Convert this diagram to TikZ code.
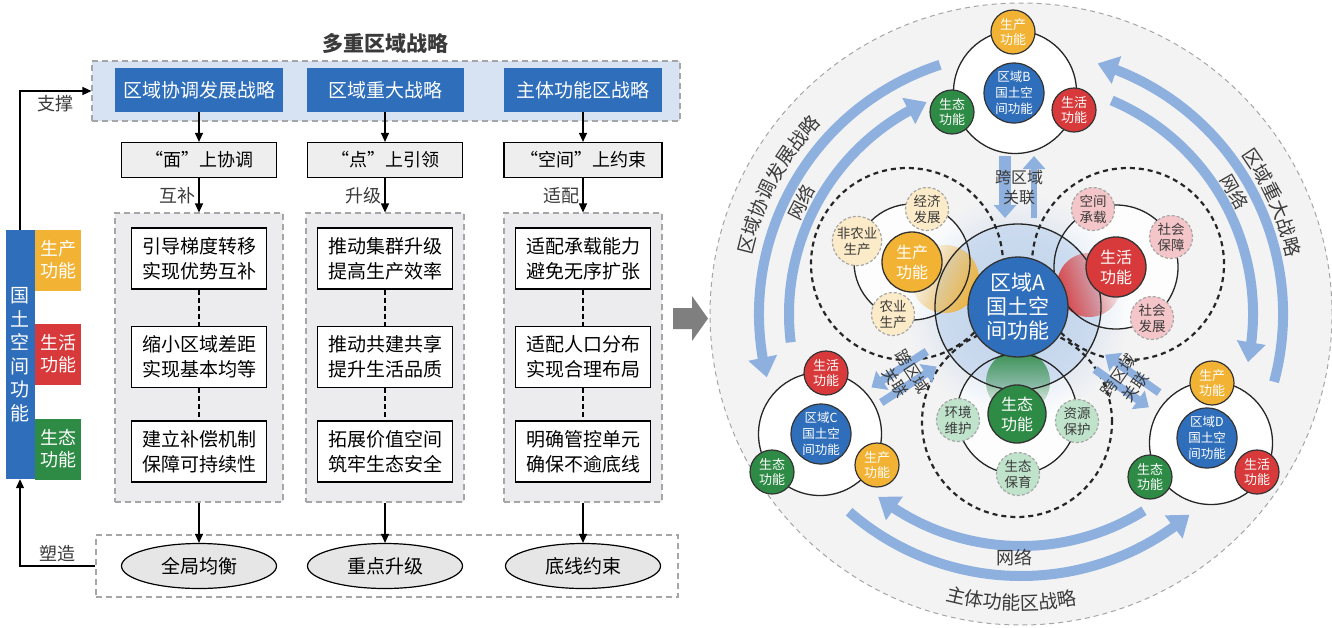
\documentclass[tikz,border=0pt]{standalone}
\usepackage{fontspec}
\setmainfont{Noto Sans CJK SC}
\usetikzlibrary{arrows.meta,positioning,calc,shapes.geometric,fadings,bending,decorations.text}

\definecolor{stratblue}{HTML}{2F6EBA}
\definecolor{prodyellow}{HTML}{F2B233}
\definecolor{lifered}{HTML}{D8393A}
\definecolor{ecogreen}{HTML}{2E8B45}
\definecolor{panelblue}{HTML}{D7E2F3}
\definecolor{panelgray}{HTML}{ECECEE}
\definecolor{boxgray}{HTML}{EEEEEE}
\definecolor{ellgray}{HTML}{E6E6E6}
\definecolor{dashgray}{HTML}{A6A6A6}
\definecolor{flowblue}{HTML}{8DB0DF}
\definecolor{ringbg}{HTML}{F3F3F4}
\definecolor{glowblue}{HTML}{BDD2EC}
\definecolor{chevgray}{HTML}{7F7F7F}
\definecolor{prodpale}{HTML}{FCEBC8}
\definecolor{lifepale}{HTML}{F5C6C9}
\definecolor{ecopale}{HTML}{C0E3CC}
\definecolor{textdark}{HTML}{3A3A3A}

\newcommand{\fsz}[2]{\fontsize{#1}{#2}\selectfont}
\newcommand{\stratfont}{\fontsize{19}{19}\selectfont\color{textdark}}

\tikzfading[name=fadeup, top color=transparent!5, bottom color=transparent!100]
\tikzfading[name=glowfade, inner color=transparent!0, outer color=transparent!100]

\tikzset{
  flow/.style={-{Triangle[length=9pt,width=8pt]}, line width=1.2pt},
  strat/.style={fill=stratblue, text=white, minimum height=44pt, font=\fsz{19}{22}},
  mode/.style={draw, line width=1.2pt, fill=boxgray, minimum width=155pt, minimum height=35pt, font=\fsz{18}{22}},
  measure/.style={draw, line width=1.2pt, fill=white, minimum width=135pt, minimum height=61pt, align=center, font=\fsz{19}{25}},
  panel/.style={draw=dashgray, line width=1.1pt, dash pattern=on 6pt off 4pt},
  outcome/.style={ellipse, draw, line width=1.2pt, fill=ellgray, minimum width=155pt, minimum height=45pt, font=\fsz{19}{22}},
  tab/.style={minimum width=46pt, minimum height=61pt, text=white, align=center, font=\fsz{18}{22}, inner sep=0pt},
  lbl/.style={font=\fsz{18}{22}, text=textdark},
  netarrow/.style={line width=10pt, draw=flowblue, -{Triangle[length=20pt,width=28pt]}},
  crossarrow/.style={line width=8pt, draw=flowblue, -{Triangle[length=13pt,width=22pt]}},
  regionA/.style={circle, draw=black!80, line width=1.3pt, fill=stratblue, minimum size=100pt, inner sep=0pt, text=white, align=center, font=\fsz{21}{24}},
  func/.style={circle, draw=black!80, line width=1.3pt, minimum size=60pt, inner sep=0pt, text=white, align=center, font=\fsz{16}{20}},
  sat/.style={circle, draw=dashgray, line width=1.2pt, dash pattern=on 3pt off 2pt, minimum size=43pt, inner sep=0pt, text=textdark, align=center, font=\fsz{13.5}{16}},
  hub/.style={circle, draw=black!85, line width=1.3pt, fill=white, minimum size=123pt, inner sep=0pt},
  subregion/.style={circle, draw=black!80, line width=1.2pt, fill=stratblue, minimum size=60pt, inner sep=0pt, text=white, align=center, font=\fsz{12.5}{16}},
  subfunc/.style={circle, draw=black!80, line width=1.2pt, minimum size=44pt, inner sep=0pt, text=white, align=center, font=\fsz{13}{15}},
  note/.style={text=textdark, align=center, font=\fsz{16}{20}},
  netlbl/.style={text=textdark, font=\fsz{18}{20}},
  groupring/.style={line width=1.3pt, draw=black!85},
  groupdash/.style={line width=2.2pt, draw=black!85, dash pattern=on 5pt off 4pt}
}

\begin{document}
\begin{tikzpicture}[x=1pt, y=-1pt]
\useasboundingbox (0,0) rectangle (1332,627);
\fill[white] (0,0) rectangle (1332,627);

% ---------- left: strategy flow ----------
\node[font=\fsz{21}{24}\bfseries, text=textdark] (title) at (385,44) {多重区域战略};
\node[panel, fill=panelblue, minimum width=588pt, minimum height=60pt] (stratpanel) at (386,91) {};
\node[strat, minimum width=168pt] (s1) at (199,90) {区域协调发展战略};
\node[strat, minimum width=157pt] (s2) at (385,90) {区域重大战略};
\node[strat, minimum width=158pt] (s3) at (583,90) {主体功能区战略};

\node[mode] (m1) at (199,160) {“面”上协调};
\node[mode] (m2) at (385,160) {“点”上引领};
\node[mode, minimum width=158pt] (m3) at (583,160) {“空间”上约束};

\node[panel, fill=panelgray, minimum width=168pt, minimum height=289pt] (c1) at (199,357.5) {};
\node[panel, fill=panelgray, minimum width=158pt, minimum height=289pt] (c2) at (385,357.5) {};
\node[panel, fill=panelgray, minimum width=158pt, minimum height=289pt] (c3) at (583,357.5) {};

\node[measure] (r11) at (199,258.5) {引导梯度转移\\实现优势互补};
\node[measure] (r12) at (199,357) {缩小区域差距\\实现基本均等};
\node[measure] (r13) at (199,451.5) {建立补偿机制\\保障可持续性};
\node[measure] (r21) at (385,258.5) {推动集群升级\\提高生产效率};
\node[measure] (r22) at (385,357) {推动共建共享\\提升生活品质};
\node[measure] (r23) at (385,451.5) {拓展价值空间\\筑牢生态安全};
\node[measure] (r31) at (583,258.5) {适配承载能力\\避免无序扩张};
\node[measure] (r32) at (583,357) {适配人口分布\\实现合理布局};
\node[measure] (r33) at (583,451.5) {明确管控单元\\确保不逾底线};

\node[panel, fill=white, minimum width=582pt, minimum height=62pt] (outpanel) at (387,566) {};
\node[outcome] (e1) at (199,566) {全局均衡};
\node[outcome] (e2) at (385,566) {重点升级};
\node[outcome] (e3) at (583,566) {底线约束};

\node[fill=stratblue, minimum width=29pt, minimum height=249pt, inner sep=0pt, text=white, align=center, font=\fsz{19}{23.5}] (landbar) at (20,354.5) {国\\土\\空\\间\\功\\能};
\node[tab, fill=prodyellow] (t1) at (58,260) {生产\\功能};
\node[tab, fill=lifered] (t2) at (58,354) {生活\\功能};
\node[tab, fill=ecogreen] (t3) at (58,449) {生态\\功能};

\foreach \i in {1,2,3} {
  \draw[flow] (s\i) -- (m\i);
  \draw[flow] (c\i) -- (e\i);
  \draw[line width=1.2pt, dash pattern=on 5pt off 3pt] (r\i1) -- (r\i2);
  \draw[line width=1.2pt, dash pattern=on 5pt off 3pt] (r\i2) -- (r\i3);
}
\draw[flow] (m1) -- node[lbl, left, pos=0.5] {互补} (c1);
\draw[flow] (m2) -- node[lbl, left, pos=0.5] {升级} (c2);
\draw[flow] (m3) -- node[lbl, left, pos=0.5] {适配} (c3);

\draw[flow] (landbar) |- node[lbl, below, pos=0.75] {支撑} (stratpanel);
\draw[flow] (outpanel) -| node[lbl, above, pos=0.25] {塑造} (landbar);

% ---------- middle arrow ----------
\fill[chevgray] (673,308) -- (692,308) -- (692,296) -- (708,318.5) -- (692,341) -- (692,329) -- (673,329) -- cycle;

% ---------- right: regional network ----------
\coordinate (bigc) at (1021,314);
\begin{scope}
  \clip (0,0) rectangle (1332,627);
  \fill[ringbg] (bigc) circle[radius=311pt];
  \draw[dashgray, line width=1pt, dash pattern=on 5pt off 4pt] (bigc) circle[radius=311pt];
\end{scope}

% network arcs
\draw[netarrow] ([shift={(108:262pt)}]bigc) arc[start angle=108, end angle=194, radius=262pt];
\draw[netarrow] ([shift={(187:232pt)}]bigc) arc[start angle=187, end angle=114, radius=232pt];
\draw[netarrow] ([shift={(-15:262pt)}]bigc) arc[start angle=-15, end angle=73, radius=262pt];
\draw[netarrow] ([shift={(67:232pt)}]bigc) arc[start angle=67, end angle=-12, radius=232pt];
\draw[netarrow] ([shift={(-58:232pt)}]bigc) arc[start angle=-58, end angle=-128, radius=232pt];
\draw[netarrow] ([shift={(-131:262pt)}]bigc) arc[start angle=-131, end angle=-50, radius=262pt];

% strategy names along the ring
\path[decorate, decoration={text along path, text align=center, text={|\stratfont|区域协调发展战略}}]
  ([shift={(192:276pt)}]bigc) arc[start angle=192, end angle=112, radius=276pt];
\path[decorate, decoration={text along path, text align=center, text={|\stratfont|区域重大战略}}]
  ([shift={(64:272pt)}]bigc) arc[start angle=64, end angle=-16, radius=272pt];
\path[decorate, decoration={text along path, text align=center, text={|\stratfont|主体功能区战略}}]
  ([shift={(-132:296pt)}]bigc) arc[start angle=-132, end angle=-52, radius=296pt];

\node[netlbl, rotate=63] (net1) at (801,202) {网络};
\node[netlbl, rotate=-60] (net2) at (1235,192) {网络};
\node[netlbl] (net3) at (1014,558) {网络};

% region A and its three function groups
\coordinate (aC) at (1018,307);
\coordinate (pc) at (912,262);
\coordinate (lc) at (1116,267);
\coordinate (ec) at (1017,414);
\fill[white, opacity=0.85] (pc) circle[radius=58pt];
\fill[white, opacity=0.85] (lc) circle[radius=62pt];
\fill[white, opacity=0.85] (ec) circle[radius=60pt];

\fill[glowblue, path fading=glowfade] (aC) circle[radius=112pt];
\fill[glowblue, opacity=0.6] (aC) circle[radius=83pt];

\fill[prodyellow, path fading=fadeup, fading angle=-115] (945,279) circle[radius=34pt];
\fill[lifered, path fading=fadeup, fading angle=108] (1089,285) circle[radius=32pt];
\fill[ecogreen, path fading=fadeup] (1018,382) circle[radius=32pt];

\draw[groupring] (pc) circle[radius=58pt];
\draw[groupring] (lc) circle[radius=62pt];
\draw[groupring] (ec) circle[radius=60pt];
\draw[groupring] (aC) circle[radius=83pt];
\draw[groupdash] (907,264) circle[radius=96pt];
\draw[groupdash] (1128,264) circle[radius=96pt];
\draw[groupdash] (1017,422) circle[radius=95pt];

% cross-region links
\coordinate (mB) at (1019,187);
\coordinate (mC) at (904,377);
\coordinate (mD) at (1127,381);
\draw[crossarrow, line width=12pt] ($(mB)+(180:14pt)+(90:31pt)$) -- ($(mB)+(180:14pt)+(-90:31pt)$);
\draw[crossarrow, line width=6pt] ($(mB)+(0:15pt)+(-90:31pt)$) -- ($(mB)+(0:15pt)+(90:31pt)$);
\draw[crossarrow] ($(mC)+(123:9pt)+(33:33pt)$) -- ($(mC)+(123:9pt)+(213:33pt)$);
\draw[crossarrow] ($(mC)+(-57:9pt)+(213:33pt)$) -- ($(mC)+(-57:9pt)+(33:33pt)$);
\draw[crossarrow] ($(mD)+(-125:9pt)+(145:33pt)$) -- ($(mD)+(-125:9pt)+(-35:33pt)$);
\draw[crossarrow] ($(mD)+(55:9pt)+(-35:33pt)$) -- ($(mD)+(55:9pt)+(145:33pt)$);
\node[note] (linkB) at (mB) {跨区域\\关联};
\node[note, rotate=-57] (linkC) at (mC) {跨区域\\关联};
\node[note, rotate=55] (linkD) at (mD) {跨区域\\关联};

% nodes of region A
\node[sat, fill=prodpale] (econ) at (927,209) {经济\\发展};
\node[sat, fill=prodpale] (nonagri) at (857,241) {非农业\\生产};
\node[sat, fill=prodpale] (agri) at (893,314) {农业\\生产};
\node[sat, fill=lifepale] (carry) at (1093,209) {空间\\承载};
\node[sat, fill=lifepale] (security) at (1171,237) {社会\\保障};
\node[sat, fill=lifepale] (social) at (1152,318) {社会\\发展};
\node[sat, fill=ecopale] (envir) at (958,420) {环境\\维护};
\node[sat, fill=ecopale] (resource) at (1077,421) {资源\\保护};
\node[sat, fill=ecopale] (conserve) at (1018,474) {生态\\保育};
\node[func, fill=prodyellow] (aProd) at (pc) {生产\\功能};
\node[func, fill=lifered] (aLife) at (lc) {生活\\功能};
\node[func, fill=ecogreen, minimum size=58pt] (aEco) at (ec) {生态\\功能};
\node[regionA] (regA) at (aC) {区域A\\国土空\\间功能};

% regions B, C, D
\node[hub] (hubB) at (1015,92) {};
\node[subregion] (regB) at (1014,93) {区域B\\国土空\\间功能};
\node[subfunc, fill=prodyellow] (bProd) at (1013,32) {生产\\功能};
\node[subfunc, fill=ecogreen] (bEco) at (952,112) {生态\\功能};
\node[subfunc, fill=lifered] (bLife) at (1074,110) {生活\\功能};

\node[hub] (hubC) at (820,434) {};
\node[subregion] (regC) at (821,434) {区域C\\国土空\\间功能};
\node[subfunc, fill=lifered] (cLife) at (826,373) {生活\\功能};
\node[subfunc, fill=ecogreen] (cEco) at (772,472) {生态\\功能};
\node[subfunc, fill=prodyellow] (cProd) at (877,465) {生产\\功能};

\node[hub] (hubD) at (1211,443) {};
\node[subregion] (regD) at (1207,438) {区域D\\国土空\\间功能};
\node[subfunc, fill=prodyellow] (dProd) at (1212,383) {生产\\功能};
\node[subfunc, fill=ecogreen] (dEco) at (1150,477) {生态\\功能};
\node[subfunc, fill=lifered] (dLife) at (1257,472) {生活\\功能};
\end{tikzpicture}
\end{document}
